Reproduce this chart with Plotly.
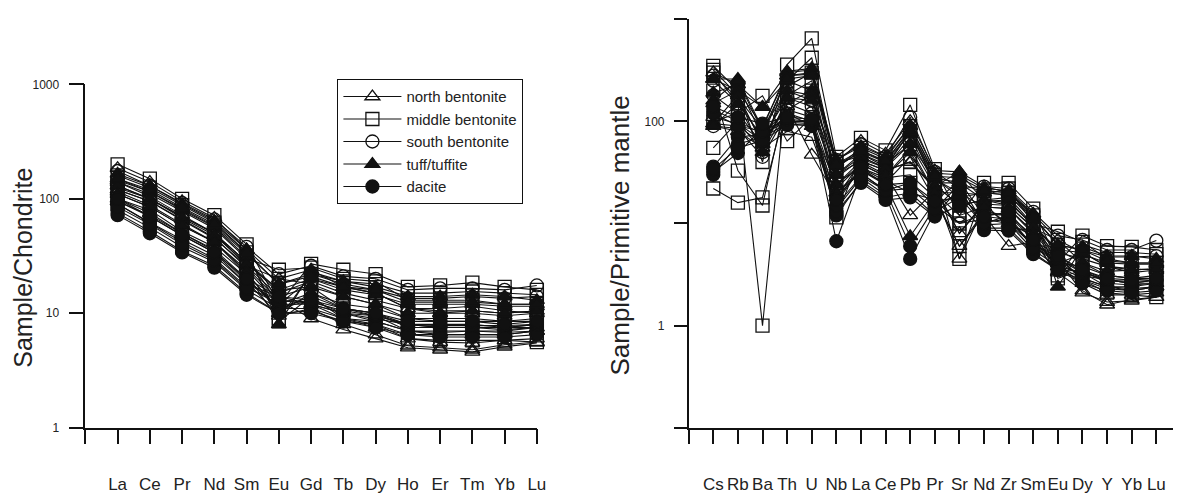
import plotly.graph_objects as go

# ---------------- data ----------------
REE_LABELS = ["La", "Ce", "Pr", "Nd", "Sm", "Eu", "Gd", "Tb", "Dy", "Ho", "Er", "Tm", "Yb", "Lu"]
PM_LABELS = ["Cs", "Rb", "Ba", "Th", "U", "Nb", "La", "Ce", "Pb", "Pr", "Sr", "Nd", "Zr",
             "Sm", "Eu", "Dy", "Y", "Yb", "Lu"]

GROUP_NAMES = ["north bentonite", "middle bentonite", "south bentonite", "tuff/tuffite", "dacite"]

# chondrite-normalised REE (one row per sample)
REE_NORTH = [
    [185, 140, 95, 68, 36, 20, 24, 17, 15, 11, 10, 10, 9.5, 10],
    [140, 105, 72, 50, 26, 14, 17, 11, 9.5, 7, 6.5, 6.5, 6.5, 7],
    [115, 88, 60, 42, 22, 11, 14, 9, 7.5, 6, 5.6, 5.5, 5.8, 6],
    [100, 75, 50, 35, 19, 9.5, 11, 8, 6.5, 5.2, 5.0, 4.8, 5.3, 5.6],
    [120, 95, 66, 46, 25, 13, 9, 7.2, 6, 5, 4.8, 4.6, 5.1, 5.5],
]
REE_MIDDLE = [
    [200, 150, 100, 72, 40, 12, 27, 24, 22, 17, 17.5, 18.5, 17, 16],
    [160, 125, 88, 62, 34, 9, 22, 19, 18, 15, 15, 15.5, 15, 14.5],
    [140, 110, 78, 55, 30, 24, 25, 20, 19, 13, 13, 13, 12, 12],
    [120, 95, 65, 45, 26, 20, 18, 14, 12, 9, 9, 9, 8.5, 8.5],
    [100, 80, 52, 38, 22, 8.5, 14, 11, 10, 7.5, 7.5, 7.5, 7.2, 7.5],
    [90, 62, 44, 32, 18, 14, 12, 9, 8, 6, 5.8, 5.8, 5.8, 5.6],
    [130, 100, 70, 50, 28, 16, 20, 17, 15, 11, 11, 11.5, 10.5, 10],
]
REE_SOUTH = [
    [175, 130, 92, 66, 38, 22, 26, 21, 20, 16, 16.5, 16.5, 16, 17.5],
    [150, 115, 82, 58, 33, 18, 22, 18, 16, 13.5, 13.5, 14, 13.5, 14],
    [125, 100, 70, 50, 28, 15, 19, 15, 13, 11, 10.5, 10.5, 10, 10.5],
    [110, 85, 58, 42, 24, 12, 15, 12, 11, 9, 8.5, 8.5, 8.5, 9],
    [95, 72, 50, 36, 20, 11, 13, 10, 9.5, 8, 7.5, 7.5, 7.5, 8],
]
REE_TUFF = [
    [165, 130, 90, 64, 36, 8, 23, 19, 17, 14, 14, 14.5, 14, 13],
    [145, 115, 80, 57, 31, 12, 20, 16, 14.5, 12, 12, 12, 11.5, 11.5],
    [130, 100, 68, 48, 27, 16, 17, 14, 12, 10, 10, 10.5, 10, 10.5],
    [110, 85, 58, 42, 23, 10, 15, 11, 10, 8, 8, 8, 7.5, 7.5],
    [95, 70, 48, 34, 18, 13, 12, 10, 8.5, 7, 6.8, 7, 6.8, 7],
    [150, 120, 84, 60, 34, 18, 21, 17, 16, 12.5, 12.5, 12.5, 12, 12],
]
REE_DACITE = [
    [90, 62, 42, 30, 17, 12, 12, 10, 9, 8, 7.5, 7.5, 7.5, 8],
    [80, 56, 38, 28, 16, 11, 11, 9, 8.5, 7, 7, 7, 7, 7.5],
    [75, 52, 35, 26, 15, 10, 10.5, 8.5, 8, 6.5, 6.5, 6.5, 6.5, 7],
    [72, 50, 34, 25, 14.5, 10, 10, 8.5, 7.5, 6.5, 6.2, 6.2, 6.2, 6.5],
    [85, 60, 40, 29, 16.5, 13, 12.5, 10.5, 9.5, 8, 7.8, 7.8, 7.8, 8],
    [100, 70, 48, 34, 20, 14, 13, 11, 10, 8.5, 8.5, 8.5, 8, 8.5],
]

# primitive-mantle-normalised trace elements (one row per sample)
PM_NORTH = [
    [300, 230, 138, 300, 320, 40, 64, 48, 100, 33, 32, 23, 20, 12.4, 6.9, 5.2, 3.8, 3.3, 3.5],
    [260, 200, 90, 280, 290, 30, 48, 36, 80, 25, 25, 17, 15, 9, 4.8, 3.3, 2.4, 2.2, 2.4],
    [95, 90, 60, 140, 47, 18, 40, 30, 12, 21, 4.5, 14.5, 10, 7.6, 3.8, 2.6, 2.0, 2.0, 2.1],
    [90, 80, 55, 80, 70, 16, 35, 26, 20, 17, 6, 12, 6, 6.6, 3.3, 2.2, 1.6, 1.8, 1.9],
    [110, 95, 65, 120, 90, 24, 41, 33, 40, 23, 8, 16, 9, 8.6, 4.5, 2.1, 1.7, 1.75, 1.9],
]
PM_MIDDLE = [
    [350, 200, 40, 360, 650, 45, 69, 52, 145, 34, 12, 25, 25, 14, 4.1, 7.6, 6.0, 5.9, 5.5],
    [300, 150, 1.0, 250, 420, 35, 55, 43, 90, 30, 4.5, 21, 20, 12, 3.1, 6.2, 5.2, 5.2, 5.0],
    [100, 120, 178, 64, 110, 11.5, 48, 38, 60, 27, 20, 19, 22, 10, 8.3, 6.6, 4.5, 4.1, 4.1],
    [22, 16, 18, 150, 200, 30, 41, 33, 40, 22, 8, 15.5, 15, 9, 6.9, 4.1, 3.1, 2.9, 2.9],
    [200, 33, 15, 180, 250, 25, 35, 28, 30, 18, 6, 13, 12, 7.6, 2.9, 3.5, 2.6, 2.5, 2.6],
    [55, 100, 75, 130, 180, 20, 31, 21, 25, 15, 10, 11, 10, 6.2, 4.8, 2.8, 2.1, 2.0, 1.9],
    [320, 180, 60, 220, 300, 40, 45, 35, 80, 24, 15, 17, 18, 9.7, 5.5, 5.2, 3.8, 3.6, 3.5],
]
PM_SOUTH = [
    [280, 170, 85, 200, 160, 42, 60, 45, 110, 32, 22, 23, 22, 13, 7.6, 6.9, 5.5, 5.5, 6.8],
    [250, 150, 70, 170, 140, 35, 52, 40, 85, 28, 18, 20, 19, 11.4, 6.2, 5.5, 4.7, 4.7, 4.8],
    [180, 120, 60, 150, 120, 28, 43, 35, 70, 24, 15, 17, 16, 9.7, 5.2, 4.5, 3.8, 3.5, 3.6],
    [130, 100, 50, 130, 110, 22, 38, 29, 55, 20, 12, 14.5, 14, 8.3, 4.1, 3.8, 3.1, 2.9, 3.1],
    [90, 85, 45, 120, 100, 18, 33, 25, 45, 17, 10, 12.4, 12, 6.9, 3.8, 3.3, 2.8, 2.6, 2.8],
]
PM_TUFF = [
    [260, 260, 85, 310, 330, 42, 57, 45, 90, 31, 30, 22, 21, 12.4, 2.4, 5.9, 4.8, 4.8, 4.5],
    [190, 230, 70, 280, 300, 36, 50, 40, 75, 28, 25, 20, 19, 10.7, 4.1, 5.0, 4.1, 4.0, 4.0],
    [150, 200, 138, 250, 200, 30, 45, 35, 60, 23, 32, 16.5, 17, 9.3, 5.5, 4.1, 3.4, 3.5, 3.6],
    [95, 180, 60, 200, 180, 24, 38, 29, 50, 20, 20, 14.5, 14, 7.9, 3.4, 3.5, 2.8, 2.6, 2.6],
    [90, 150, 50, 170, 160, 20, 33, 24, 7.5, 16.5, 18, 11.7, 11, 6.2, 4.5, 2.9, 2.4, 2.3, 2.4],
    [160, 250, 80, 260, 280, 38, 52, 41, 80, 29, 28, 21, 20, 11.7, 6.2, 5.5, 4.3, 4.1, 4.1],
]
PM_DACITE = [
    [32, 49, 85, 98, 95, 6.7, 31, 21, 6, 14.5, 20, 10.3, 11, 5.9, 4.1, 3.1, 2.8, 2.6, 2.8],
    [36, 70, 75, 100, 100, 14, 28, 19, 4.5, 13, 18, 9.7, 10, 5.5, 3.8, 2.9, 2.4, 2.4, 2.6],
    [30, 60, 70, 95, 90, 12, 26, 18, 20, 12, 22, 9, 9, 5.2, 3.5, 2.8, 2.3, 2.2, 2.4],
    [34, 55, 65, 92, 92, 13, 25, 17, 18, 11.7, 15, 8.6, 8.5, 5.0, 3.5, 2.6, 2.2, 2.1, 2.2],
    [120, 90, 80, 105, 100, 15, 29, 21, 22, 13.8, 24, 10, 12, 5.7, 4.5, 3.3, 2.8, 2.7, 2.8],
    [140, 110, 95, 110, 105, 17, 35, 24, 25, 16.5, 26, 11.7, 13, 6.9, 4.8, 3.5, 2.9, 2.8, 2.9],
]

# ---------------- build ----------------
SYMBOLS = ["triangle-up-open", "square-open", "circle-open", "triangle-up", "circle"]
REE_SETS = [REE_NORTH, REE_MIDDLE, REE_SOUTH, REE_TUFF, REE_DACITE]
PM_SETS = [PM_NORTH, PM_MIDDLE, PM_SOUTH, PM_TUFF, PM_DACITE]

INK = "#111111"
TXT = "#222222"
FONT = "Liberation Sans, Arial, Helvetica, sans-serif"

x_ree = list(range(1, len(REE_LABELS) + 1))
x_pm = list(range(1, len(PM_LABELS) + 1))

fig = go.Figure()
for name, sym, ree_rows, pm_rows in zip(GROUP_NAMES, SYMBOLS, REE_SETS, PM_SETS):
    marker = dict(symbol=sym, size=13, color=INK, line=dict(color=INK, width=1.3))
    for k, row in enumerate(ree_rows):
        fig.add_trace(go.Scatter(
            x=x_ree, y=row, mode="lines+markers", name=name, legendgroup=name,
            showlegend=(k == 0), marker=marker, line=dict(color=INK, width=1.1),
            cliponaxis=False, xaxis="x", yaxis="y"))
    for row in pm_rows:
        fig.add_trace(go.Scatter(
            x=x_pm, y=row, mode="lines+markers", name=name, legendgroup=name,
            showlegend=False, marker=marker, line=dict(color=INK, width=1.1),
            cliponaxis=False, xaxis="x2", yaxis="y2"))

axis_common = dict(showline=True, linecolor=INK, linewidth=1.5, ticks="outside",
                   tickcolor=INK, tickwidth=1.5, showgrid=False, zeroline=False)

fig.update_layout(
    width=1183, height=494, margin=dict(l=0, r=0, t=0, b=0),
    paper_bgcolor="white", plot_bgcolor="white",
    font=dict(family=FONT, color=TXT),
    xaxis=dict(domain=[0.0727, 0.4573], range=[0, 14], anchor="y",
               tickvals=list(range(0, len(REE_LABELS) + 1)), ticktext=[""] + REE_LABELS,
               ticklen=15, tickangle=0, tickfont=dict(size=17, color=TXT),
               ticklabelstandoff=25, **axis_common),
    yaxis=dict(domain=[0.0972, 0.834], type="log", range=[0, 3], anchor="x",
               tickvals=[1, 10, 100, 1000], ticktext=["1", "10", "100", "1000"],
               ticklen=15, tickfont=dict(size=12, color=TXT), ticklabelstandoff=7,
               **axis_common),
    xaxis2=dict(domain=[0.5866, 0.9992], range=[0, 19.68], anchor="y2",
                tickvals=list(range(0, len(PM_LABELS) + 1)), ticktext=[""] + PM_LABELS,
                ticklen=15, tickangle=0, tickfont=dict(size=17, color=TXT),
                ticklabelstandoff=25, **axis_common),
    yaxis2=dict(domain=[0.0972, 0.9737], type="log", range=[-1, 3], anchor="x2",
                tickvals=[0.1, 1, 10, 100, 1000], ticktext=["", "1", "", "100", ""],
                ticklen=13, tickfont=dict(size=12, color=TXT), ticklabelstandoff=7,
                **axis_common),
    legend=dict(x=0.2874, y=0.845, xanchor="left", yanchor="top",
                bordercolor=INK, borderwidth=1, bgcolor="white", itemwidth=58,
                font=dict(size=15, color=TXT), tracegroupgap=0),
    annotations=[
        dict(text="Sample/Chondrite", textangle=-90, x=0.0194, y=0.44,
             xanchor="center", yanchor="middle",
             xref="paper", yref="paper", showarrow=False,
             font=dict(size=25, color=TXT, family=FONT)),
        dict(text="Sample/Primitive mantle", textangle=-90, x=0.5283, y=0.51,
             xanchor="center", yanchor="middle",
             xref="paper", yref="paper", showarrow=False,
             font=dict(size=26, color=TXT, family=FONT)),
    ],
)

fig.write_html("out.html")
